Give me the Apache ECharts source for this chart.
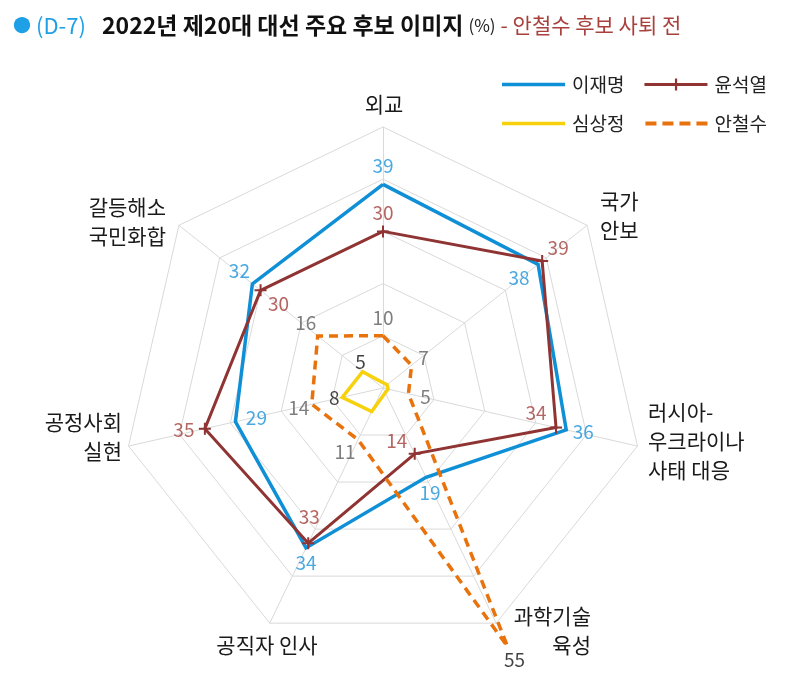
<!DOCTYPE html>
<html><head><meta charset="utf-8">
<script src="https://cdn.jsdelivr.net/npm/echarts@6/dist/echarts.min.js"></script>
<style>html,body{margin:0;padding:0;background:#fff}#c{width:796px;height:680px}</style>
</head><body><div id="c"></div>
<script>
// ---- data ----
const categories = ['외교', '국가\n안보', '러시아-\n우크라이나\n사태 대응', '과학기술\n육성', '공직자 인사', '공정사회\n실현', '갈등해소\n국민화합'];
const seriesNames = ['이재명', '윤석열', '심상정', '안철수'];
const leeJaeMyung = [39, 38, 36, 19, 34, 29, 32];
const yoonSukYeol = [30, 39, 34, 14, 33, 35, 30];
const simSangJung = [1, 1, 1, 1, 5, 8, 5];
const ahnCheolSoo = [10, 7, 5, 55, 11, 14, 16];
const axisMin = 0, axisMax = 50, axisSplit = 5;
const simShown = [false, false, false, false, false, true, true];

// ---- layout / style (not data) ----
const FONT = "'Noto Sans CJK KR', 'Noto Sans', sans-serif";
const colors = ['#0e8fd6', '#8f3433', '#f7d10c', '#e8720c'];
const labelColors = ['#1a92d9', '#a23e3b', '#111111', '#5e5e5e'];
const CX = 383, CY = 388, R = 261;
const labelOffsets = [
  [[0,-19],[-19,13],[17,2],[4,15],[0,15],[21,-4],[-13,-13]],
  [[0,-19],[16,-13],[-20,-15],[-18,-13],[1,-26],[-21,1],[18,13]],
  [null,null,null,null,null,[-8,0],[-2,-10]],
  [[0,-18],[12,-7],[17,3],[7,13],[-13,12],[-13,4],[-12,-13]]
];
const namePos = [
  {x:384, y:104, align:'center'},
  {x:600, y:215.5, align:'left'},
  {x:648, y:441, align:'left'},
  {x:591, y:631, align:'right'},
  {x:267, y:645, align:'center'},
  {x:122, y:437, align:'right'},
  {x:166, y:222, align:'right'}
];

const values = [leeJaeMyung, yoonSukYeol, simSangJung, ahnCheolSoo];
// ECharts radar places indicators counter-clockwise; reorder to get clockwise layout
const ccw = a => [a[0]].concat(a.slice(1).reverse());

const chart = echarts.init(document.getElementById('c'), null, {renderer: 'canvas'});

const radarSeries = values.map((vals, k) => {
  const s = {
    type: 'radar', name: seriesNames[k], z: 2 + k * 0.01,
    symbol: 'none',
    silent: true,
    lineStyle: {color: colors[k], width: k === 1 ? 3 : 3.5, type: 'solid', join: 'miter'},
    itemStyle: {color: colors[k]},
    data: [{value: ccw(vals), name: seriesNames[k]}]
  };
  if (k === 1) {
    s.symbol = 'path://M5,0h2v12h-2zM0,5h12v2h-12z';
    s.symbolSize = 12;
  }
  if (k === 3) {
    s.lineStyle.type = [9, 6];
  }
  return s;
});

const labelSeries = values.map((vals, k) => ({
  type: 'scatter', coordinateSystem: 'polar', name: 'lbl' + k, z: 5,
  symbolSize: 1, silent: true, clip: false,
  itemStyle: {color: 'transparent'},
  label: {show: true, position: 'inside', color: labelColors[k], fontSize: 19, fontFamily: FONT,
          formatter: p => String(p.value[0])},
  data: vals.map((v, i) => {
    const off = labelOffsets[k][i];
    if (!off || (k === 2 && !simShown[i])) return null;
    const item = {value: [v, i], label: {offset: off}};
    if (k === 3 && v > axisMax) item.label.color = '#111111';
    return item;
  }).filter(Boolean)
}));

const pathSolid = 'path://M0,0L0,0M63,14L63,14M0,5.25h63v3.5h-63z';
const pathPlus = 'path://M0,0L0,0M63,14L63,14M0,5.5h63v3h-63zM30.5,1h2.2v12h-2.2z';
const pathDash = 'path://M0,0L0,0M63,14L63,14M1,5h11v4h-11zM18,5h11v4h-11zM35,5h11v4h-11zM52,5h11v4h-11z';

const legendBase = {
  left: 497, itemWidth: 63, itemHeight: 14, itemGap: 20, selectedMode: false,
  itemStyle: {borderWidth: 0},
  textStyle: {fontSize: 19, color: '#222', fontFamily: FONT, padding: [0, 0, 0, 2]}
};

const option = {
  animation: false,
  color: colors,
  title: {
    left: 8, top: 9,
    text: '{dot|●} {d|(D-7)}{m|2022년 제20대 대선 주요 후보 이미지} {p|(%)} {r|- 안철수 후보 사퇴 전}',
    textStyle: {
      rich: {
        dot: {fontSize: 18, color: '#1ea0e6', fontFamily: FONT, fontWeight: 'normal'},
        d: {fontSize: 22, color: '#1ea0e6', fontFamily: FONT, fontWeight: 'normal', width: 66},
        m: {fontSize: 23, color: '#111', fontWeight: 'bold', fontFamily: FONT},
        p: {fontSize: 17, color: '#222', fontFamily: FONT, fontWeight: 'normal'},
        r: {fontSize: 21, color: '#a8403c', fontFamily: FONT, fontWeight: 'normal'}
      }
    }
  },
  legend: [
    Object.assign({}, legendBase, {top: 70, data: [{name: seriesNames[0], icon: pathSolid}, {name: seriesNames[1], icon: pathPlus}]}),
    Object.assign({}, legendBase, {top: 109, data: [{name: seriesNames[2], icon: pathSolid}, {name: seriesNames[3], icon: pathDash}]})
  ],
  radar: {
    center: [CX, CY], radius: R, shape: 'polygon', splitNumber: axisSplit,
    indicator: ccw(categories).map(n => ({name: n, min: axisMin, max: axisMax})),
    axisName: {show: false},
    splitLine: {lineStyle: {color: '#d9d9d9', width: 1}},
    splitArea: {show: false},
    axisLine: {lineStyle: {color: '#d9d9d9', width: 1}},
    axisTick: {show: false},
    axisLabel: {show: false}
  },
  polar: {center: [CX, CY], radius: R},
  angleAxis: {type: 'category', data: categories, startAngle: 90, clockwise: true, boundaryGap: false, show: false},
  radiusAxis: {min: axisMin, max: axisMax, show: false},
  graphic: categories.map((n, i) => ({
    type: 'text', x: namePos[i].x, y: namePos[i].y, silent: true,
    style: {text: n, fill: '#1a1a1a', fontSize: 21, fontFamily: FONT,
            align: namePos[i].align, verticalAlign: 'middle', lineHeight: 29}
  })),
  series: radarSeries.concat(labelSeries)
};
chart.setOption(option);
</script>
</body></html>
